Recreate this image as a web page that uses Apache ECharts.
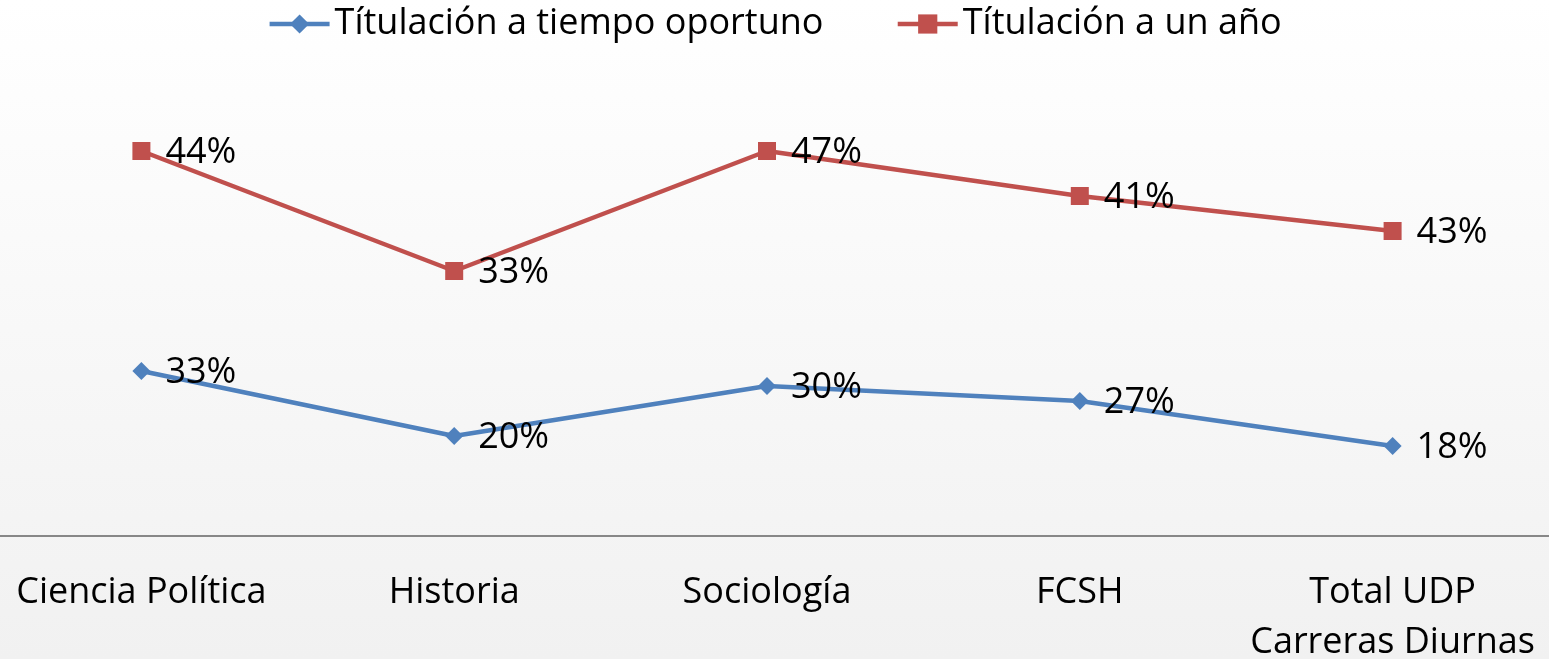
<!DOCTYPE html>
<html>
<head>
<meta charset="utf-8">
<script src="https://cdn.jsdelivr.net/npm/echarts@6/dist/echarts.min.js"></script>
<style>
html,body{margin:0;padding:0;}
#main{width:1549px;height:659px;}
</style>
</head>
<body>
<div id="main"></div>
<script>
// categorias y valores (%)
var categorias = ["Ciencia Política", "Historia", "Sociología", "FCSH", "Total UDP\nCarreras Diurnas"];
var tiempoOportuno = [33, 20, 30, 27, 18];
var unAnio = [44, 33, 47, 41, 43];

var myChart = echarts.init(document.getElementById("main"));
var fuente = "Open Sans";
var tam = 36;

function etiqueta(){
	return {show: true, position: "right", distance: 15, offset: [0, 2], formatter: "{c}%", fontSize: tam, color: "#000", fontFamily: fuente};
}

var option = {
	backgroundColor: {
		type: "linear", x: 0, y: 0, x2: 0, y2: 1,
		colorStops: [{offset: 0, color: "#ffffff"}, {offset: 1, color: "#f1f1f1"}]
	},
	textStyle: {fontFamily: fuente},
	legend: {
		top: 1,
		left: "center",
		itemGap: 72,
		itemWidth: 60,
		itemHeight: 24,
		lineStyle: {width: 4.5},
		textStyle: {fontSize: tam, color: "#000", fontFamily: fuente},
		data: ["Títulación a tiempo oportuno", "Títulación a un año"]
	},
	grid: {left: -15, right: 0, top: 36, bottom: 123, containLabel: false, outerBoundsMode: "none"},
	xAxis: {
		type: "category",
		data: categorias,
		boundaryGap: true,
		axisLine: {lineStyle: {color: "#878787", width: 2}},
		axisTick: {show: false},
		axisLabel: {fontSize: tam, color: "#000", margin: 32, lineHeight: 50, interval: 0, fontFamily: fuente}
	},
	yAxis: {
		type: "value",
		min: 0,
		max: 100,
		show: false,
		splitLine: {show: false}
	},
	series: [{
		name: "Títulación a tiempo oportuno",
		type: "line",
		stack: "total",
		data: tiempoOportuno,
		symbol: "diamond",
		symbolSize: 18,
		color: "#4F81BD",
		lineStyle: {width: 4.5, color: "#4F81BD"},
		itemStyle: {color: "#4F81BD"},
		label: etiqueta()
	}, {
		name: "Títulación a un año",
		type: "line",
		stack: "total",
		data: unAnio,
		symbol: "rect",
		symbolSize: 18,
		color: "#C0504D",
		lineStyle: {width: 4.5, color: "#C0504D"},
		itemStyle: {color: "#C0504D"},
		label: etiqueta()
	}]
};
myChart.setOption(option);
</script>
</body>
</html>
